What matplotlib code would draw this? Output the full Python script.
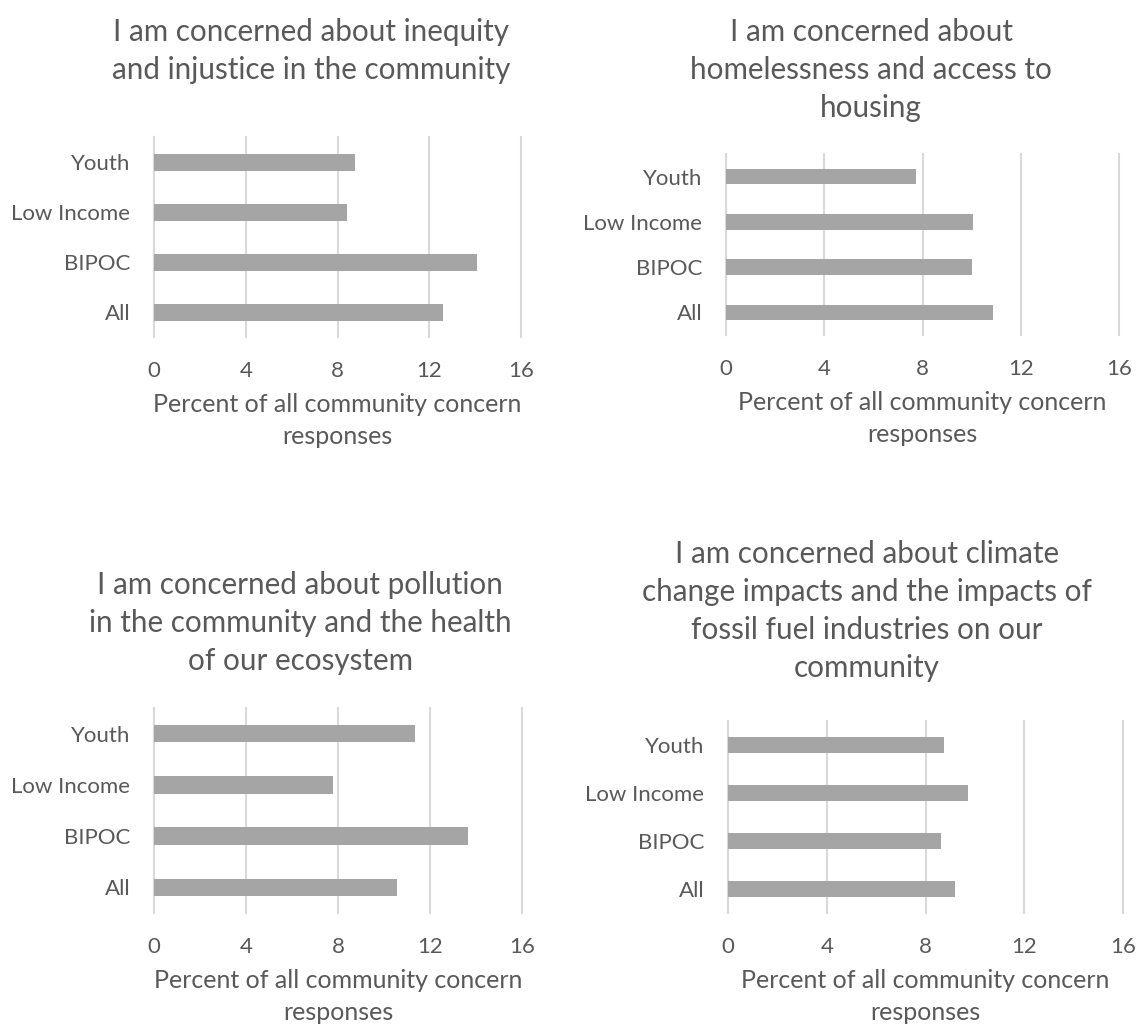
import matplotlib.pyplot as plt

plt.rcParams['font.family'] = ['Lato', 'DejaVu Sans']

# groups, bottom to top
groups = ['All', 'BIPOC', 'Low Income', 'Youth']

inequity = [12.6, 14.1, 8.43, 8.75]
housing = [10.86, 10.0, 10.05, 7.72]
pollution = [10.58, 13.64, 7.78, 11.35]
climate = [9.2, 8.61, 9.72, 8.75]

titles = [
    'I am concerned about inequity\nand injustice in the community',
    'I am concerned about\nhomelessness and access to\nhousing',
    'I am concerned about pollution\nin the community and the health\nof our ecosystem',
    'I am concerned about climate\nchange impacts and the impacts of\nfossil fuel industries on our\ncommunity',
]
x_ticks = [0, 4, 8, 12, 16]
x_label = 'Percent of all community concern\nresponses'

TEXT = '#595959'
BAR = '#A5A5A5'
GRID = '#D9D9D9'

W, H = 1137, 1026
fig = plt.figure(figsize=(W / 100, H / 100), dpi=100)

# plot boxes in pixels: left, top, right, bottom
boxes = [(154, 137, 521, 337), (726, 154, 1119, 335),
         (154, 708, 522, 913), (728, 721, 1123, 913)]
# title centre x and top y in pixels
title_pos = [(311, 18), (871, 18), (300, 571), (867, 540)]

for values, title, box, tpos in zip([inequity, housing, pollution, climate],
                                    titles, boxes, title_pos):
    l, t, r, b = box
    ax = fig.add_axes([l / W, 1 - b / H, (r - l) / W, (b - t) / H])
    ax.barh(groups, values, height=0.34, color=BAR, zorder=3)
    ax.set_xlim(0, 16)
    ax.set_ylim(-0.5, 3.5)
    ax.set_xticks(x_ticks)
    ax.grid(axis='x', color=GRID, linewidth=1.5, zorder=0)
    for gl in ax.get_xgridlines():
        gl.set_clip_on(False)
    for side in ['top', 'right', 'bottom']:
        ax.spines[side].set_visible(False)
    ax.spines['left'].set_color(GRID)
    ax.spines['left'].set_linewidth(1.5)
    ax.tick_params(axis='both', length=0, labelsize=16, labelcolor=TEXT)
    ax.tick_params(axis='x', pad=17)
    ax.tick_params(axis='y', pad=17)
    ax.set_xlabel(x_label, fontsize=18, color=TEXT, labelpad=9, linespacing=1.45)
    fig.text(tpos[0] / W, 1 - tpos[1] / H, title, ha='center', va='top',
             fontsize=21.3, color=TEXT, linespacing=1.43)

fig.savefig('out.png', dpi=100, facecolor='white')
